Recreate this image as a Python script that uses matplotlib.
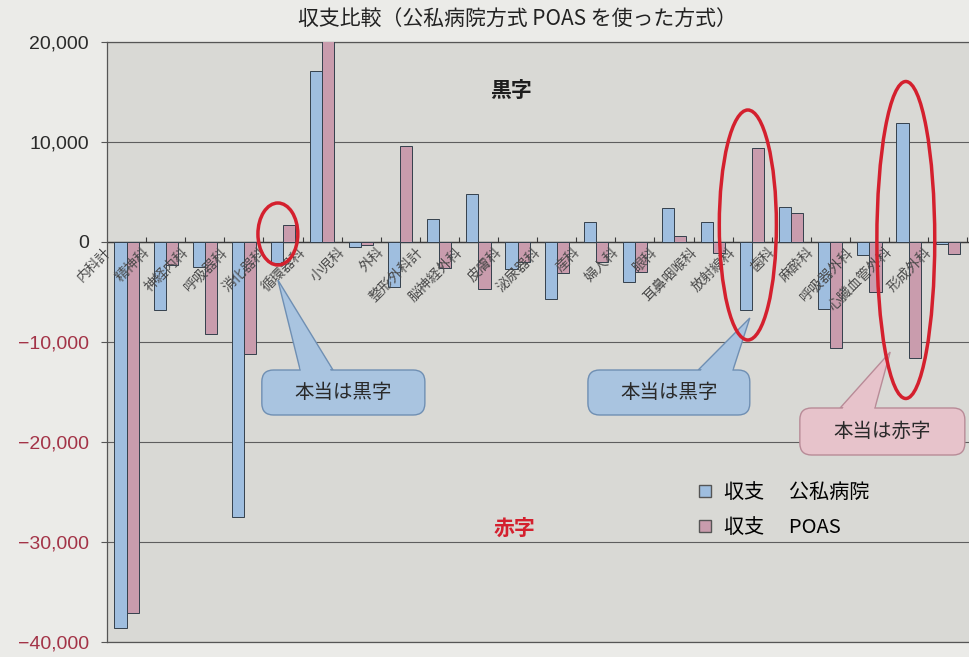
import numpy as np
import matplotlib
matplotlib.use('Agg')
import matplotlib.pyplot as plt
from matplotlib.patches import Ellipse, Polygon, FancyBboxPatch
from matplotlib.lines import Line2D
from matplotlib.ticker import FuncFormatter

plt.rcParams['font.family'] = ['Noto Sans CJK JP', 'DejaVu Sans']

# categories (内科計 has no bars in the scan; last group is cut off on the right)
categories = ['内科計', '精神科', '神経内科', '呼吸器科', '消化器科', '循環器科', '小児科',
              '外科', '整形外科計', '脳神経外科', '皮膚科', '泌尿器科', '産科', '婦人科',
              '眼科', '耳鼻咽喉科', '放射線科', '歯科', '麻酔科', '呼吸器外科',
              '心臓血管外科', '形成外科', '']
koushi = [np.nan, -38600, -6800, -2500, -27500, -2100, 17100, -500, -4500, 2300, 4800,
          -2700, -5700, 2000, -4000, 3400, 2000, -6800, 3500, -6700, -1300, 11900, -200]
poas = [np.nan, -37100, -2300, -9200, -11200, 1700, 20800, -300, 9600, -2600, -4700,
        -2000, -3100, -2000, -3000, 600, -1100, 9400, 2900, -10600, -5000, -11600, -1200]
series_names = ['収支\u3000 公私病院', '収支\u3000 POAS']
yticks = [-40000, -30000, -20000, -10000, 0, 10000, 20000]

blue = '#9fbedf'
pink = '#c99cad'
red = '#d4202e'

W, H = 969, 657
fig = plt.figure(figsize=(W / 100, H / 100), dpi=100)
fig.patch.set_facecolor('#ebebe8')

ax_left, ax_top, ax_bottom = 107, 42, 642
ax = fig.add_axes([ax_left / W, 1 - ax_bottom / H, 1 - ax_left / W, (ax_bottom - ax_top) / H])
ax.set_facecolor('#d9d9d5')

x = np.arange(len(categories)) - 1
bw = 0.31
ax.bar(x - bw / 2, koushi, width=bw, color=blue, edgecolor='#34404c', linewidth=0.7, zorder=3)
ax.bar(x + bw / 2, poas, width=bw, color=pink, edgecolor='#34404c', linewidth=0.7, zorder=3)

xlim = (-0.5, -0.5 + (W - ax_left) / 39.1)
ylim = (yticks[0], yticks[-1])
ax.set_xlim(*xlim)
ax.set_ylim(*ylim)

# gridlines and zero line with small group ticks
ax.set_yticks(yticks)
ax.yaxis.grid(True, color='#5e5e5e', linewidth=0.8)
ax.set_axisbelow(True)
ax.axhline(0, color='#3a3a3a', linewidth=1.0, zorder=2)
ax.vlines(x[1:] + 0.5, 0, 500, color='#3a3a3a', linewidth=0.8, zorder=2)

ax.set_xticks([])
ax.yaxis.set_major_formatter(FuncFormatter(lambda v, p: f'{int(v):,}'.replace('-', '\u2212')))
ax.tick_params(axis='y', length=4, color='#555', labelsize=14, pad=9)
for lab, v in zip(ax.get_yticklabels(), yticks):
    lab.set_fontfamily(['Liberation Sans', 'DejaVu Sans'])
    lab.set_color('#a33347' if v < 0 else '#2a2a2a')

for s in ['left', 'top', 'bottom']:
    ax.spines[s].set_color('#555')
    ax.spines[s].set_linewidth(0.9)
ax.spines['right'].set_visible(False)

# category labels along the zero line
for xi, name in zip(x, categories):
    ax.text(xi + 0.4, -300, name, rotation=45, ha='right', va='top',
            rotation_mode='anchor', fontsize=10, color='#4a4a4a', clip_on=False, zorder=6)

fig.text(0.534, 0.971, '収支比較（公私病院方式 POAS を使った方式）',
         ha='center', va='center', fontsize=15, color='#222')

ax.text(9.83, 15200, '黒字', ha='center', va='center', fontsize=15,
        fontweight='bold', color='#1e1e1e')
ax.text(9.93, -28600, '赤字', ha='center', va='center', fontsize=15,
        fontweight='bold', color=red)

# aspect to keep rounded corners round in data coords
aspect = ((ylim[1] - ylim[0]) / (ax_bottom - ax_top)) / ((xlim[1] - xlim[0]) / (W - ax_left))


def callout(x0, x1, ytop, ybot, base, tip, text, fc, ec):
    b0, b1 = base
    ax.add_patch(Polygon([(b0, ytop), tip, (b1, ytop)], closed=True, fc=fc, ec=ec,
                         lw=1.0, zorder=7))
    ax.add_patch(FancyBboxPatch((x0, ybot), x1 - x0, ytop - ybot,
                                boxstyle='round,pad=0,rounding_size=0.3',
                                mutation_aspect=aspect, fc=fc, ec=ec, lw=1.0, zorder=8))
    tx, ty = tip
    f = 0.07
    p0 = (b0 + f * (tx - b0) + 0.03, ytop + f * (ty - ytop))
    p1 = (b1 + f * (tx - b1) - 0.03, ytop + f * (ty - ytop))
    ax.add_patch(Polygon([(b0 + 0.03, ytop - 400), p0, p1, (b1 - 0.03, ytop - 400)],
                         closed=True, fc=fc, ec='none', zorder=9))
    ax.text((x0 + x1) / 2, (ytop + ybot) / 2, text, ha='center', va='center',
            fontsize=14, color='#2a2a2a', zorder=10)


callout(3.46, 7.63, -12800, -17300, (4.44, 5.28), (3.87, -3800), '本当は黒字', '#a9c4e0', '#6f8fb3')
callout(11.80, 15.94, -12800, -17300, (14.62, 15.51), (15.94, -7600), '本当は黒字', '#a9c4e0', '#6f8fb3')
callout(17.22, 21.44, -16600, -21300, (18.25, 19.14), (19.53, -11000), '本当は赤字', '#e7c3cb', '#b88b97')

for cx, cy, ew, eh in [(3.87, 800, 1.02, 6200), (15.89, 1700, 1.46, 23000),
                       (19.93, 200, 1.48, 31700)]:
    ax.add_patch(Ellipse((cx, cy), ew, eh, fill=False, ec=red, lw=2.5, zorder=11))

handles = [Line2D([], [], marker='s', ls='', ms=9, mfc=blue, mec='#555'),
           Line2D([], [], marker='s', ls='', ms=9, mfc=pink, mec='#555')]
ax.legend(handles, series_names, loc='upper left', bbox_to_anchor=(0.682, 0.267),
          frameon=False, fontsize=14.5, handletextpad=0.45, labelspacing=0.72,
          borderpad=0, handlelength=1.0, borderaxespad=0)

fig.savefig('out.png', dpi=100, facecolor=fig.get_facecolor())
